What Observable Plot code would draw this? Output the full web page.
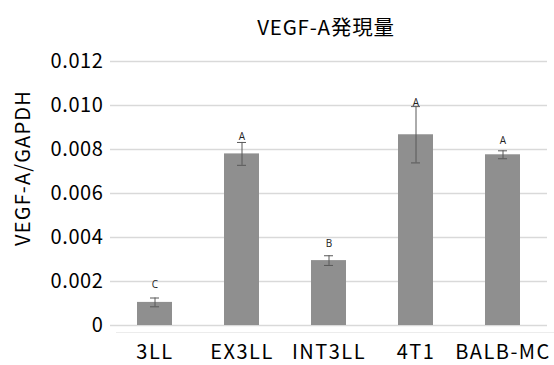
<!DOCTYPE html>
<html>
<head>
<meta charset="utf-8">
<script src="https://cdn.jsdelivr.net/npm/d3@7"></script>
<script src="https://cdn.jsdelivr.net/npm/@observablehq/plot@0.6"></script>
<style>
  html, body { margin: 0; padding: 0; background: #fff; }
  #wrap { position: relative; width: 554px; height: 365px; overflow: hidden; }
  #title { position: absolute; left: 0; top: 16px; width: 652px; text-align: center; letter-spacing: 0.8px;
           font-family: "Noto Sans CJK JP", sans-serif; font-size: 20.5px; color: #000; line-height: 1; }
  #ylabel { position: absolute; left: 21.5px; top: 167.5px; transform: translate(-50%, -50%) rotate(-90deg);
           white-space: nowrap; font-family: "Noto Sans CJK JP", sans-serif; font-size: 20px; letter-spacing: 1.2px;
           color: #000; line-height: 1; }
  #edge { position: absolute; left: 116px; top: 332px; width: 438px; height: 1px; background: #ececec; }
  svg text { }
</style>
</head>
<body>
<div id="wrap">
  <div id="edge"></div>
  <div id="title">VEGF-A発現量</div>
  <div id="ylabel"></div>
</div>
<script>
const categories = ["3LL", "EX3LL", "INT3LL", "4T1", "BALB-MC"];
const values     = [0.00105, 0.00780, 0.00295, 0.00867, 0.00776];
const errors     = [0.00020, 0.00052, 0.00022, 0.00128, 0.00018];
const letters    = ["C", "A", "B", "A", "A"];
const letterPos  = [0.00183, 0.00856, 0.00371, 0.01014, 0.00838];
const yTicks     = [0, 0.002, 0.004, 0.006, 0.008, 0.010, 0.012];
const yLabel     = "VEGF-A/GAPDH";

document.getElementById("ylabel").textContent = yLabel;

const data = categories.map((c, i) => ({
  cat: c, v: values[i], lo: values[i] - errors[i], hi: values[i] + errors[i],
  letter: letters[i], lp: letterPos[i]
}));

const font = "'Noto Sans CJK JP', sans-serif";

const chart = Plot.plot({
  width: 554,
  height: 365,
  marginTop: 61,
  marginBottom: 40,
  marginLeft: 110,
  marginRight: 7,
  style: { fontFamily: font, background: "transparent", color: "#000", position: "relative" },
  x: { domain: categories, paddingInner: 0.6, paddingOuter: 0.3, align: 0.5 },
  y: { domain: [0, 0.012] },
  marks: [
    Plot.ruleY(yTicks, { stroke: "#d9d9d9", strokeWidth: 1.5 }),
    Plot.barY(data, { x: "cat", y: "v", fill: "#8f8f8f" }),
    Plot.ruleX(data, { x: "cat", y1: "lo", y2: "hi", stroke: "#595959", strokeWidth: 1 }),
    Plot.tickY(data, { x: "cat", y: "lo", stroke: "#595959", strokeWidth: 1, insetLeft: 13, insetRight: 13 }),
    Plot.tickY(data, { x: "cat", y: "hi", stroke: "#595959", strokeWidth: 1, insetLeft: 13, insetRight: 13 }),
    Plot.text(data, { x: "cat", y: "lp", text: "letter", fontSize: 10, fill: "#222", fontFamily: "'Open Sans', sans-serif" }),
    Plot.axisY(yTicks, { tickSize: 0, tickPadding: 7, fontSize: 20, label: null, className: "yax",
      tickFormat: d => d === 0 ? "0" : d.toFixed(3) }),
    Plot.axisX({ tickSize: 0, tickPadding: 19, fontSize: 20, label: null, className: "xax" })
  ]
});
chart.querySelectorAll("g[aria-label='y-axis tick label'] text").forEach(t => t.setAttribute("letter-spacing", "0.6"));
chart.querySelectorAll("g[aria-label='x-axis tick label'] text").forEach(t => t.setAttribute("letter-spacing", "1.5"));
document.getElementById("wrap").appendChild(chart);
</script>
</body>
</html>
